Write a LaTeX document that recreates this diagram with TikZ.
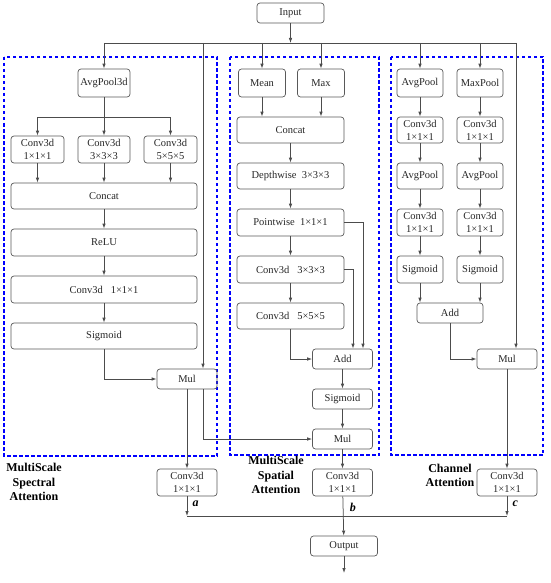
\documentclass[tikz,border=0pt]{standalone}
\usepackage{fontspec}
\setmainfont{Liberation Serif}
\usetikzlibrary{arrows.meta}
\begin{document}
\begin{tikzpicture}[x=1pt,y=-1pt,
  box/.style={draw=black!65, line width=0.7pt, rounded corners=3pt, inner sep=0pt, align=center,
    font=\fontsize{10.5}{13}\selectfont, text=black!85},
  arr/.style={draw=black!70, line width=0.75pt, -{Latex[length=5pt,width=3.5pt]}},
  ln/.style={draw=black!70, line width=0.75pt},
  dbox/.style={draw=blue, line width=1.2pt, dash pattern=on 3.5pt off 2.5pt},
  lab/.style={font=\fontsize{12}{14.5}\selectfont\bfseries, align=center},
  tag/.style={font=\fontsize{12}{14}\selectfont\bfseries\itshape}]
\useasboundingbox (0,0) rectangle (550,583);

% dashed panels
\draw[dbox] (4,57) rectangle (217,456);
\draw[dbox] (230,57) rectangle (379,455);
\draw[dbox] (391,57) rectangle (543,455);

% input
\node[box, minimum width=67pt, minimum height=20pt] (input) at (290.5,13) {Input};
\coordinate (busL) at (104,43);
\coordinate (busR) at (516,43);
\coordinate (skipTop) at (203,43);

% left panel
\node[box, minimum width=52pt, minimum height=28pt] (avg3d) at (104,83) {AvgPool3d};
\node[box, minimum width=53pt, minimum height=27pt] (c1) at (37.5,149.5) {Conv3d\\1×1×1};
\node[box, minimum width=52pt, minimum height=27pt] (c2) at (104,149.5) {Conv3d\\3×3×3};
\node[box, minimum width=53pt, minimum height=27pt] (c3) at (170.5,149.5) {Conv3d\\5×5×5};
\node[box, minimum width=186pt, minimum height=26pt] (concat) at (104,196) {Concat};
\node[box, minimum width=186pt, minimum height=27pt] (relu) at (104,242.5) {ReLU};
\node[box, minimum width=186pt, minimum height=27pt] (conv1) at (104,289.5) {Conv3d~~~1×1×1};
\node[box, minimum width=186pt, minimum height=26pt] (sigL) at (104,336) {Sigmoid};
\node[box, minimum width=60pt, minimum height=20pt] (mulL) at (187,379) {Mul};
\node[box, minimum width=60pt, minimum height=27pt] (convA) at (187,482.5) {Conv3d\\1×1×1};
\coordinate (split) at (104,117);

% middle panel
\node[box, minimum width=47pt, minimum height=28pt] (mean) at (262,83) {Mean};
\node[box, minimum width=47pt, minimum height=28pt] (max) at (321,83) {Max};
\node[box, minimum width=107pt, minimum height=26pt] (concatM) at (290.5,130) {Concat};
\node[box, minimum width=107pt, minimum height=26pt] (dw) at (290.5,176) {Depthwise~~3×3×3};
\node[box, minimum width=107pt, minimum height=27pt] (pw) at (290.5,222.5) {Pointwise~~1×1×1};
\node[box, minimum width=107pt, minimum height=27pt] (c333) at (290.5,269.5) {Conv3d~~~3×3×3};
\node[box, minimum width=107pt, minimum height=26pt] (c555) at (290.5,316) {Conv3d~~~5×5×5};
\node[box, minimum width=60pt, minimum height=20pt] (addM) at (342.5,359) {Add};
\node[box, minimum width=60pt, minimum height=20pt] (sigM) at (342.5,399) {Sigmoid};
\node[box, minimum width=60pt, minimum height=20pt] (mulM) at (342.5,439) {Mul};
\node[box, minimum width=60pt, minimum height=27pt] (convB) at (342.5,482.5) {Conv3d\\1×1×1};
\node[box, minimum width=67pt, minimum height=20pt] (output) at (344,546) {Output};
\coordinate (pwx) at (363,0);
\coordinate (c3x) at (353,0);
\coordinate (skipx) at (203,0);
\coordinate (outEnd) at (344,573);

% right panel
\node[box, minimum width=46pt, minimum height=28pt] (avgP) at (420,83) {AvgPool};
\node[box, minimum width=46pt, minimum height=28pt] (maxP) at (480,83) {MaxPool};
\node[box, minimum width=46pt, minimum height=26pt] (cA1) at (420,130) {Conv3d\\1×1×1};
\node[box, minimum width=46pt, minimum height=26pt] (cB1) at (480,130) {Conv3d\\1×1×1};
\node[box, minimum width=46pt, minimum height=26pt] (pA) at (420,176) {AvgPool};
\node[box, minimum width=46pt, minimum height=26pt] (pB) at (480,176) {AvgPool};
\node[box, minimum width=46pt, minimum height=27pt] (cA2) at (420,222.5) {Conv3d\\1×1×1};
\node[box, minimum width=46pt, minimum height=27pt] (cB2) at (480,222.5) {Conv3d\\1×1×1};
\node[box, minimum width=46pt, minimum height=27pt] (sA) at (420,269.5) {Sigmoid};
\node[box, minimum width=46pt, minimum height=27pt] (sB) at (480,269.5) {Sigmoid};
\node[box, minimum width=66pt, minimum height=20pt] (addR) at (450,313) {Add};
\node[box, minimum width=60pt, minimum height=20pt] (mulR) at (507,359) {Mul};
\node[box, minimum width=60pt, minimum height=27pt] (convC) at (507,482.5) {Conv3d\\1×1×1};
\coordinate (jy) at (0,516);

% bus
\draw[arr] (input) -- (input.south |- busL);
\draw[ln] (busL) -- (busR);
\draw[arr] (busL) -- (avg3d);
\draw[arr] (skipTop) -- (skipTop |- mulL.north);
\draw[arr] (mean.north |- busL) -- (mean);
\draw[arr] (max.north |- busL) -- (max);
\draw[arr] (avgP.north |- busL) -- (avgP);
\draw[arr] (maxP.north |- busL) -- (maxP);
\draw[arr] (busR) -- (busR |- mulR.north);

% left connections
\draw[ln] (avg3d) -- (split);
\draw[arr] (split) -| (c1);
\draw[arr] (split) -| (c3);
\draw[arr] (avg3d) -- (c2);
\draw[arr] (c1) -- (c1 |- concat.north);
\draw[arr] (c2) -- (c2 |- concat.north);
\draw[arr] (c3) -- (c3 |- concat.north);
\draw[arr] (concat) -- (relu);
\draw[arr] (relu) -- (conv1);
\draw[arr] (conv1) -- (sigL);
\draw[arr] (sigL) |- (mulL);
\draw[arr] (mulL) -- (convA);
\draw[arr] (mulL.south -| skipx) |- (mulM);
\draw[arr] (convA) -- (convA |- jy) node[tag, pos=0.4, right=2pt] {a};

% middle connections
\draw[arr] (mean) -- (mean |- concatM.north);
\draw[arr] (max) -- (max |- concatM.north);
\draw[arr] (concatM) -- (dw);
\draw[arr] (dw) -- (pw);
\draw[arr] (pw) -- (c333);
\draw[arr] (c333) -- (c555);
\draw[arr] (c555) |- (addM);
\draw[arr] (pw.east) -| (addM.north -| pwx);
\draw[arr] (c333.east) -| (addM.north -| c3x);
\draw[arr] (addM) -- (sigM);
\draw[arr] (sigM) -- (mulM);
\draw[arr] (mulM) -- (convB);
\draw[arr] (convB) -- (output) node[tag, pos=0.27, right=3pt] {b};
\draw[arr] (output) -- (outEnd);

% right connections
\draw[arr] (avgP) -- (cA1);
\draw[arr] (cA1) -- (pA);
\draw[arr] (pA) -- (cA2);
\draw[arr] (cA2) -- (sA);
\draw[arr] (sA) -- (sA |- addR.north);
\draw[arr] (maxP) -- (cB1);
\draw[arr] (cB1) -- (pB);
\draw[arr] (pB) -- (cB2);
\draw[arr] (cB2) -- (sB);
\draw[arr] (sB) -- (sB |- addR.north);
\draw[arr] (addR) |- (mulR);
\draw[arr] (mulR) -- (convC);
\draw[arr] (convC) -- (convC |- jy) node[tag, pos=0.4, right=2pt] {c};

% join line
\draw[ln] (convA |- jy) -- (convC |- jy);

% panel labels
\node[lab] (labL) at (34,482) {MultiScale\\Spectral\\Attention};
\node[lab] (labM) at (276,475) {MultiScale\\Spatial\\Attention};
\node[lab] (labR) at (450,475.5) {Channel\\Attention};
\end{tikzpicture}
\end{document}
